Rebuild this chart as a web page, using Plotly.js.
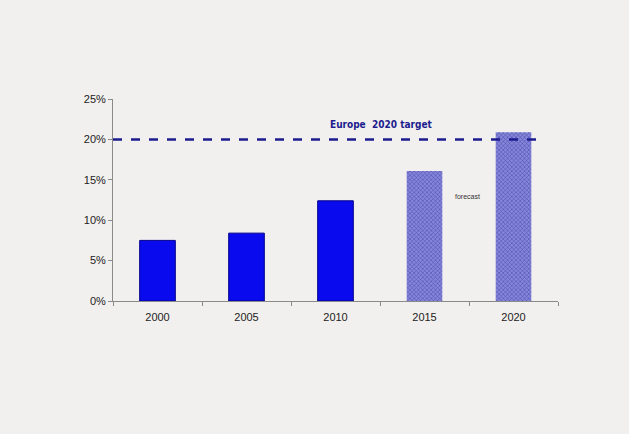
<!DOCTYPE html>
<html><head><meta charset="utf-8">
<script src="https://cdn.plot.ly/plotly-3.0.1.min.js"></script>
<style>html,body{margin:0;padding:0;background:#f2f0ee;}</style>
</head><body>
<div id="chart" style="width:629px;height:434px;"></div>
<script>
const years = ['2000', '2005', '2010', '2015', '2020'];
const shares = [7.5, 8.4, 12.4, 16.1, 20.9];
const isForecast = [false, false, false, true, true];
const target = 20;
const yTickVals = [0, 5, 10, 15, 20, 25];
const yTickText = ['0%', '5%', '10%', '15%', '20%', '25%'];

const actualX = years.filter((y, i) => !isForecast[i]);
const actualY = shares.filter((v, i) => !isForecast[i]);
const fcX = years.filter((y, i) => isForecast[i]);
const fcY = shares.filter((v, i) => isForecast[i]);

const traces = [
  {type: 'bar', x: actualX, y: actualY, width: 0.4,
   marker: {color: '#0a0aef', line: {color: '#00008a', width: 1}}, hoverinfo: 'skip'},
  {type: 'bar', x: fcX, y: fcY, width: 0.4,
   marker: {color: '#7070d0', line: {width: 0},
            pattern: {shape: 'x', fgcolor: '#4444ae', bgcolor: '#8686d8', size: 3, solidity: 0.3}},
   hoverinfo: 'skip'}
];

const layout = {
  width: 629, height: 434,
  paper_bgcolor: '#f2f0ee', plot_bgcolor: '#f2f0ee',
  margin: {l: 113, r: 71, t: 99, b: 133},
  showlegend: false,
  barmode: 'overlay',
  font: {family: 'Liberation Sans, Arial, sans-serif', size: 11, color: '#222'},
  xaxis: {type: 'category', categoryorder: 'array', categoryarray: years,
          showline: true, linecolor: '#8a8a8a', linewidth: 1,
          ticks: 'outside', tickson: 'boundaries', ticklen: 4, tickcolor: '#8a8a8a',
          ticklabelstandoff: 6,
          showgrid: false, zeroline: false, tickfont: {size: 11, color: '#222'}},
  yaxis: {range: [0, 25], tickvals: yTickVals, ticktext: yTickText,
          showline: true, linecolor: '#8a8a8a', linewidth: 1,
          ticks: 'outside', ticklen: 4, tickcolor: '#8a8a8a',
          showgrid: false, zeroline: false, tickfont: {size: 11, color: '#222'}},
  shapes: [
    {type: 'line', xref: 'paper', x0: 0, x1: 0.97, yref: 'y', y0: target, y1: target,
     line: {color: '#1c1c8e', width: 2.5, dash: 'dash'}}
  ],
  annotations: [
    {text: '<b>Europe  2020 target</b>', xref: 'x', x: 2.52, yref: 'y', y: target + 1.8,
     showarrow: false, font: {family: 'DejaVu Sans Condensed, Liberation Sans Narrow, sans-serif', size: 10, color: '#1c1c8e'}},
    {text: 'forecast', xref: 'x', x: 3.48, yref: 'y', y: 12.9,
     showarrow: false, xanchor: 'center', font: {size: 7, color: '#333'}}
  ]
};

Plotly.newPlot('chart', traces, layout, {displayModeBar: false, staticPlot: true});
</script>
</body></html>
